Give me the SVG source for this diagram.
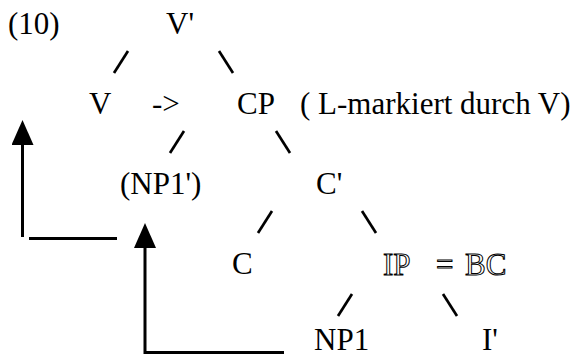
<svg xmlns="http://www.w3.org/2000/svg" width="581" height="357" viewBox="0 0 581 357">
<style>
text{font-family:"Liberation Serif","Times New Roman",serif;font-size:31px;fill:#000}
.outline{fill:#fff;stroke:#000;stroke-width:1}
.edge{stroke:#000;stroke-width:2.7;stroke-linecap:butt}
.mv{stroke:#000;stroke-width:3;fill:none}
</style>
<defs>
<marker id="ah" markerUnits="userSpaceOnUse" viewBox="0 0 25 22" refX="0" refY="11" markerWidth="25" markerHeight="22" orient="auto">
<path d="M0,0 L25,11 L0,22 z" fill="#000"/>
</marker>
</defs>
<rect width="581" height="357" fill="#fff"/>
<g id="label"><text x="8" y="34">(10)</text></g>
<g id="Vbar"><text x="166" y="34">V'</text></g>
<g id="V"><text x="89" y="114">V</text></g>
<g id="arrowtxt"><text x="152" y="114">-&gt;</text></g>
<g id="CP"><text x="237" y="114">CP</text></g>
<g id="note"><text x="300" y="114">( L-markiert durch V)</text></g>
<g id="NP1prime"><text x="120" y="194">(NP1')</text></g>
<g id="Cbar"><text x="316" y="194">C'</text></g>
<g id="C"><text x="232" y="274">C</text></g>
<g id="IP"><text class="outline" y="275"><tspan x="383">IP</tspan><tspan x="436">=</tspan><tspan x="465">BC</tspan></text></g>
<g id="NP1"><text x="314" y="350">NP1</text></g>
<g id="Ibar"><text x="482" y="350">I'</text></g>
<g id="connectors">
<line class="edge" x1="114" y1="73" x2="128" y2="51"/>
<line class="edge" x1="219" y1="51" x2="233" y2="73"/>
<line class="edge" x1="170" y1="153" x2="184" y2="131"/>
<line class="edge" x1="276" y1="131" x2="290" y2="153"/>
<line class="edge" x1="258" y1="233" x2="272" y2="211"/>
<line class="edge" x1="362" y1="211" x2="376" y2="233"/>
<line class="edge" x1="338" y1="316" x2="352" y2="294"/>
<line class="edge" x1="443" y1="294" x2="457" y2="316"/>
<path class="mv" d="M22.5,237 V145" marker-end="url(#ah)"/>
<line class="mv" x1="29" y1="238.5" x2="117" y2="238.5"/>
<path class="mv" d="M284,352.5 H145 V248" marker-end="url(#ah)"/>
</g>
</svg>
